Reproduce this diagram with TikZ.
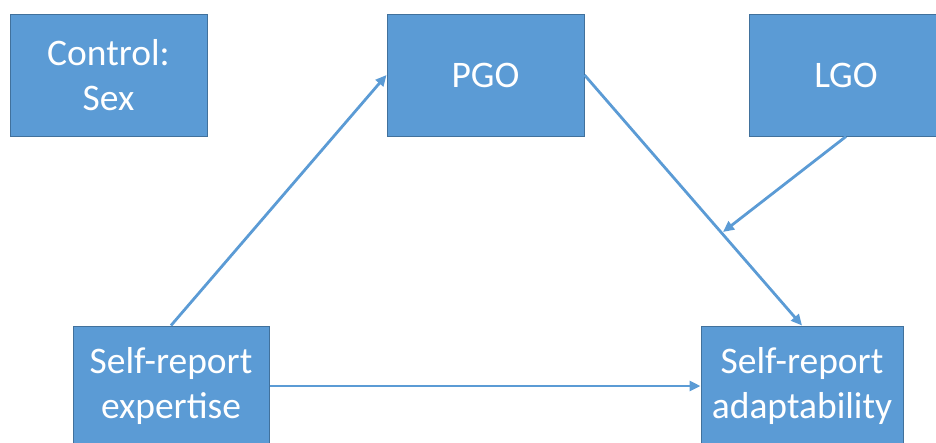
\documentclass[tikz,border=0pt]{standalone}
\usepackage{fontspec}
\setmainfont{Carlito}
\usetikzlibrary{arrows.meta}
\definecolor{boxfill}{HTML}{5B9BD5}
\definecolor{boxline}{HTML}{41719C}
\begin{document}
\begin{tikzpicture}[x=1pt,y=-1pt,
  block/.style={draw=boxline, line width=1pt, fill=boxfill, text=white,
    inner sep=0pt, align=center, font=\fontsize{37.5}{45}\selectfont},
  link/.style={draw=boxfill, line width=2.8pt,
    -{Triangle[length=11pt,width=10pt]}}]
  \useasboundingbox (0,0) rectangle (936,442);
  \clip (0,0) rectangle (936,442);

  % boxes
  \node[block, minimum width=197pt, minimum height=122pt] (ctrl) at (108.5,75) {Control:\\Sex};
  \node[block, minimum width=197pt, minimum height=122pt] (pgo) at (485.5,75) {PGO};
  \node[block, minimum width=194pt, minimum height=122pt] (lgo) at (846,75) {LGO};
  \node[block, minimum width=196pt, minimum height=120pt] (exp) at (171,386) {Self-report\\expertise};
  \node[block, minimum width=202pt, minimum height=120pt] (adp) at (802,386) {Self-report\\adaptability};

  % point where the moderator meets the PGO path
  \coordinate (mod) at (723,232);

  % paths
  \draw[link] (exp.north) -- (pgo.west);
  \draw[link] (pgo.east) -- (adp.north);
  \draw[link] (lgo.south) -- (mod);
  \draw[link] (exp.east) -- (adp.west);
\end{tikzpicture}
\end{document}
